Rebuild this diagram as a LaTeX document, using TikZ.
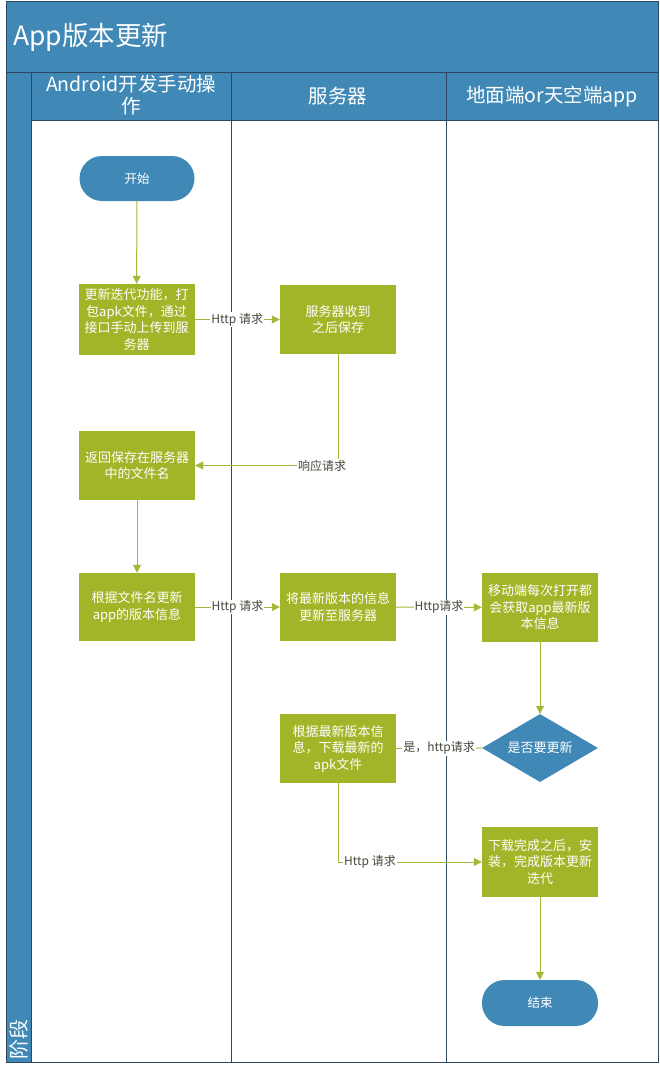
\documentclass[tikz,border=0pt]{standalone}
\usepackage{fontspec}
\setmainfont{Noto Sans CJK SC}
\usetikzlibrary{shapes.geometric,arrows.meta}
\definecolor{hdr}{RGB}{64,137,182}
\definecolor{grn}{RGB}{162,181,40}
\definecolor{ln}{RGB}{165,184,60}
\definecolor{frame}{RGB}{46,72,96}
\definecolor{lbl}{RGB}{70,70,60}
\tikzset{
  proc/.style={fill=grn, draw=none, minimum width=116pt, minimum height=69pt, text=white,
    font=\fontsize{13}{16.5}\selectfont, align=center, inner sep=1pt},
  term/.style={fill=hdr, draw=none, rounded corners=22.5pt, minimum width=115pt, minimum height=45pt,
    text=white, font=\fontsize{12.5}{14}\selectfont},
  dec/.style={diamond, shape aspect=1.7, fill=hdr, draw=none, minimum width=116pt, minimum height=68pt, inner sep=0pt,
    text=white, font=\fontsize{13}{15}\selectfont},
  arr/.style={draw=ln, line width=1pt, -{Triangle[length=8pt,width=8pt]}},
  plain/.style={draw=ln, line width=1pt},
  lab/.style={fill=white, text=lbl, font=\fontsize{12}{14}\selectfont, inner sep=1pt},
  hdrtxt/.style={text=white, font=\fontsize{19.5}{22}\selectfont, align=center},
}
\begin{document}
\begin{tikzpicture}[x=1pt,y=-1pt]
\useasboundingbox (0,0) rectangle (659,1070);
% frame
\fill[hdr] (6,2) rectangle (658,72);
\fill[hdr] (6,72) rectangle (31,1062);
\fill[hdr] (31,72) rectangle (658,120);
\draw[frame, line width=0.8pt] (6,72) -- (658,72);
\draw[frame, line width=0.8pt] (31,72) -- (31,1062);
\draw[frame, line width=0.8pt] (31,120) -- (658,120);
\draw[frame, line width=0.8pt] (231,72) -- (231,1062);
\draw[frame, line width=0.8pt] (446,72) -- (446,1062);
\draw[frame, line width=1pt] (6,2) rectangle (658,1062);
% titles
\node[anchor=west, text=white, font=\fontsize{26.5}{28}\selectfont, inner sep=0pt] (title) at (13,37) {App版本更新};
\node[hdrtxt] (h1) at (131,95) {Android开发手动操\\作};
\node[hdrtxt] (h2) at (338,96) {服务器};
\node[hdrtxt] (h3) at (552,96) {地面端or天空端app};
\node[text=white, font=\fontsize{20}{22}\selectfont, rotate=90, anchor=west, inner sep=0pt] (stage) at (18.5,1060) {阶段};
% nodes
\node[term] (start) at (137,178.5) {开始};
\node[proc, minimum height=71pt] (b1) at (136.5,319.5) {更新迭代功能，打\\包apk文件，通过\\接口手动上传到服\\务器};
\node[proc] (b2) at (338,319.5) {服务器收到\\之后保存};
\node[proc] (b3) at (137,465.5) {返回保存在服务器\\中的文件名};
\node[proc, minimum height=68pt] (b4) at (137,607) {根据文件名更新\\app的版本信息};
\node[proc, minimum height=68pt] (b5) at (338,607) {将最新版本的信息\\更新至服务器};
\node[proc] (b6) at (540,607.5) {移动端每次打开都\\会获取app最新版\\本信息};
\node[dec] (d) at (540,748) {是否要更新};
\node[proc] (b7) at (338,748.5) {根据最新版本信\\息，下载最新的\\apk文件};
\node[proc, minimum height=70pt] (b8) at (540,862) {下载完成之后，安\\装，完成版本更新\\迭代};
\node[term, minimum width=116pt, minimum height=46pt] (end) at (540,1003) {结束};
% connectors
\draw[arr] (start) -- (b1);
\draw[arr] (b1) -- node[lab] {Http 请求} (b2);
\draw[arr] (b2.south) |- node[lab, pos=0.556] {响应请求} (b3.east);
\draw[arr] (b3) -- (b4);
\draw[arr] (b4) -- node[lab] {Http 请求} (b5);
\draw[arr] (b5) -- node[lab] {Http请求} (b6);
\draw[arr] (b6) -- (d);
\draw[plain] (d.west) -- node[lab] {是，http请求} (b7.east);
\draw[arr] (b7.south) |- node[lab, pos=0.611] {Http 请求} (b8.west);
\draw[arr] (b8) -- (end);
\end{tikzpicture}
\end{document}
